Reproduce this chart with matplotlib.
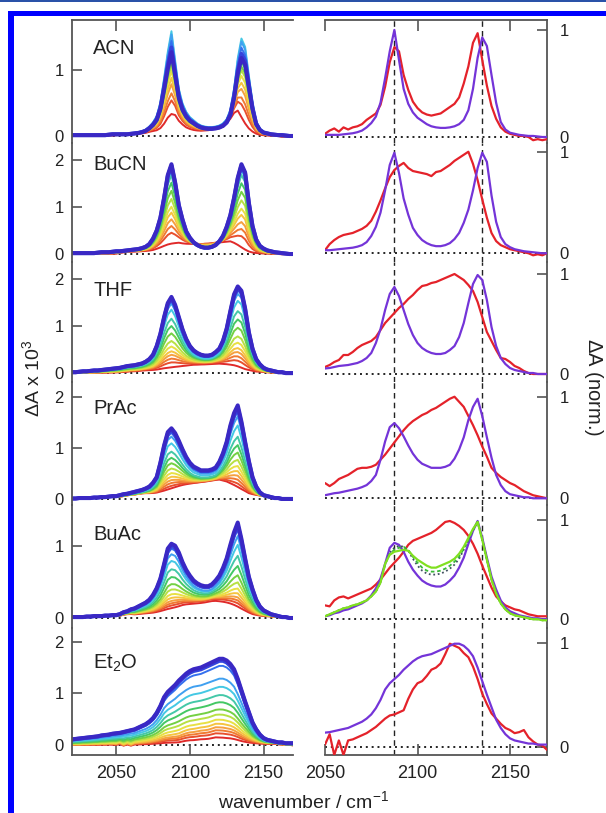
import numpy as np
import matplotlib
matplotlib.use("Agg")
import matplotlib.pyplot as plt
from matplotlib.patches import Rectangle

plt.rcParams['font.family'] = ['Liberation Sans', 'DejaVu Sans']
plt.rcParams['mathtext.fontset'] = 'custom'
plt.rcParams['mathtext.rm'] = 'Liberation Sans'
plt.rcParams['mathtext.it'] = 'Liberation Sans:italic'

# wavenumber grids (cm-1)
wn = np.arange(2020, 2172.5, 2.5)        # 61 points, left panels
wn_r = np.arange(2050, 2172.5, 2.5)      # 49 points, right-only traces

solvents = ['ACN', 'BuCN', 'THF', 'PrAc', 'BuAc', 'Et$_2$O']

# normalised spectra: "early" = red trace, "late" = violet trace (right column)
acn_late = [0.01, 0.01, 0.01, 0.01, 0.01, 0.01, 0.01, 0.01, 0.01, 0.01,
            0.015, 0.02, 0.02, 0.02, 0.02, 0.02, 0.025, 0.03, 0.035, 0.045,
            0.06, 0.09, 0.13, 0.19, 0.32, 0.55, 0.80, 1.0, 0.72, 0.45,
            0.31, 0.23, 0.18, 0.15, 0.12, 0.10, 0.09, 0.085, 0.085, 0.09,
            0.10, 0.12, 0.16, 0.25, 0.45, 0.74, 0.93, 0.85, 0.58, 0.32,
            0.14, 0.07, 0.04, 0.03, 0.02, 0.015, 0.01, 0.01, 0.005, 0.0,
            0.0]
acn_early = [0.02, 0.02, 0.02, 0.02, 0.02, 0.02, 0.02, 0.02, 0.02, 0.02,
             0.02, 0.02, 0.03, 0.06, 0.08, 0.05, 0.09, 0.07, 0.09, 0.10,
             0.12, 0.16, 0.19, 0.22, 0.30, 0.47, 0.70, 0.84, 0.80, 0.58,
             0.44, 0.33, 0.27, 0.23, 0.21, 0.20, 0.21, 0.22, 0.25, 0.28,
             0.31, 0.37, 0.50, 0.66, 0.88, 0.97, 0.72, 0.48, 0.29, 0.17,
             0.09, 0.05, 0.03, 0.02, 0.01, 0.01, 0.0, -0.03, -0.02, -0.03,
             -0.02]
bucn_late = [0.01, 0.01, 0.01, 0.01, 0.01, 0.01, 0.01, 0.015, 0.02, 0.02,
             0.02, 0.025, 0.03, 0.03, 0.035, 0.04, 0.045, 0.05, 0.055, 0.065,
             0.08, 0.11, 0.17, 0.26, 0.40, 0.62, 0.87, 0.99, 0.79, 0.54,
             0.38, 0.25, 0.18, 0.13, 0.10, 0.08, 0.07, 0.07, 0.08, 0.10,
             0.14, 0.20, 0.30, 0.43, 0.62, 0.84, 0.99, 0.90, 0.57, 0.31,
             0.16, 0.09, 0.06, 0.04, 0.03, 0.02, 0.015, 0.01, 0.005, 0.0,
             0.0]
bucn_early = [0.0, 0.0, 0.0, 0.0, 0.0, 0.0, 0.0, 0.01, 0.01, 0.01,
              0.01, 0.02, 0.03, 0.09, 0.13, 0.16, 0.18, 0.19, 0.20, 0.22,
              0.24, 0.27, 0.32, 0.41, 0.52, 0.64, 0.75, 0.82, 0.86, 0.89,
              0.84, 0.81, 0.80, 0.79, 0.78, 0.76, 0.80, 0.81, 0.84, 0.87,
              0.91, 0.94, 0.97, 1.0, 0.88, 0.72, 0.53, 0.35, 0.20, 0.12,
              0.08, 0.06, 0.04, 0.03, 0.02, 0.01, 0.0, -0.02, -0.01, -0.02,
              0.0]
thf_late = [0.01, 0.01, 0.015, 0.02, 0.02, 0.025, 0.03, 0.03, 0.035, 0.04,
            0.045, 0.05, 0.055, 0.06, 0.07, 0.08, 0.085, 0.09, 0.10, 0.11,
            0.13, 0.16, 0.21, 0.31, 0.45, 0.64, 0.80, 0.87, 0.78, 0.64,
            0.50, 0.39, 0.31, 0.26, 0.23, 0.21, 0.20, 0.20, 0.21, 0.24,
            0.28, 0.37, 0.51, 0.71, 0.90, 0.99, 0.94, 0.74, 0.47, 0.28,
            0.16, 0.10, 0.06, 0.04, 0.03, 0.02, 0.01, 0.01, 0.0, 0.0,
            0.0]
thf_early = [0.0, 0.0, 0.01, 0.01, 0.01, 0.02, 0.02, 0.03, 0.03, 0.04,
             0.05, 0.06, 0.07, 0.09, 0.12, 0.14, 0.19, 0.19, 0.22, 0.26,
             0.29, 0.31, 0.33, 0.37, 0.44, 0.51, 0.56, 0.61, 0.66, 0.70,
             0.75, 0.79, 0.84, 0.88, 0.89, 0.91, 0.92, 0.94, 0.96, 0.98,
             1.0, 0.97, 0.94, 0.89, 0.83, 0.72, 0.57, 0.42, 0.33, 0.24,
             0.16, 0.15, 0.12, 0.08, 0.06, 0.03, 0.01, 0.0, 0.0, 0.0,
             0.0]
prac_late = [0.005, 0.005, 0.01, 0.01, 0.01, 0.01, 0.015, 0.015, 0.02, 0.02,
             0.025, 0.03, 0.03, 0.04, 0.05, 0.055, 0.065, 0.075, 0.085, 0.095,
             0.11, 0.13, 0.17, 0.23, 0.38, 0.56, 0.70, 0.74, 0.69, 0.61,
             0.52, 0.44, 0.38, 0.34, 0.32, 0.30, 0.30, 0.30, 0.31, 0.33,
             0.39, 0.48, 0.60, 0.77, 0.90, 0.98, 0.81, 0.60, 0.40, 0.23,
             0.13, 0.07, 0.04, 0.03, 0.02, 0.01, 0.01, 0.0, 0.0, 0.0,
             0.0]
prac_early = [0.02, 0.03, 0.03, 0.04, 0.05, 0.06, 0.07, 0.08, 0.09, 0.10,
              0.12, 0.14, 0.15, 0.12, 0.15, 0.19, 0.21, 0.23, 0.26, 0.29,
              0.30, 0.30, 0.31, 0.33, 0.38, 0.43, 0.49, 0.55, 0.61, 0.67,
              0.72, 0.76, 0.79, 0.82, 0.84, 0.87, 0.89, 0.92, 0.95, 0.98,
              1.0, 0.95, 0.90, 0.81, 0.72, 0.62, 0.51, 0.41, 0.30, 0.25,
              0.21, 0.18, 0.15, 0.13, 0.10, 0.07, 0.05, 0.03, 0.02, 0.01,
              0.0]
buac_late = [0.01, 0.01, 0.01, 0.01, 0.015, 0.015, 0.02, 0.02, 0.02, 0.025,
             0.025, 0.03, 0.03, 0.04, 0.06, 0.07, 0.09, 0.10, 0.12, 0.14,
             0.16, 0.19, 0.24, 0.31, 0.41, 0.56, 0.72, 0.77, 0.75, 0.68,
             0.58, 0.50, 0.44, 0.39, 0.36, 0.34, 0.33, 0.33, 0.35, 0.39,
             0.44, 0.52, 0.62, 0.76, 0.89, 0.99, 0.82, 0.62, 0.43, 0.30,
             0.19, 0.12, 0.08, 0.06, 0.04, 0.03, 0.02, 0.01, 0.01, 0.0,
             0.0]
buac_early = [0.03, 0.03, 0.04, 0.04, 0.05, 0.06, 0.07, 0.08, 0.09, 0.10,
              0.11, 0.13, 0.14, 0.13, 0.19, 0.22, 0.23, 0.21, 0.23, 0.25,
              0.27, 0.29, 0.31, 0.35, 0.40, 0.46, 0.52, 0.57, 0.62, 0.68,
              0.75, 0.79, 0.81, 0.83, 0.85, 0.87, 0.90, 0.94, 0.98, 0.99,
              0.97, 0.94, 0.90, 0.84, 0.76, 0.66, 0.54, 0.43, 0.32, 0.23,
              0.18, 0.14, 0.12, 0.10, 0.09, 0.07, 0.05, 0.04, 0.03, 0.03,
              0.03]
et2o_late = [0.065, 0.07, 0.075, 0.08, 0.085, 0.09, 0.095, 0.10, 0.11, 0.115,
             0.12, 0.13, 0.135, 0.14, 0.15, 0.16, 0.17, 0.18, 0.20, 0.22,
             0.24, 0.27, 0.31, 0.37, 0.45, 0.55, 0.61, 0.65, 0.69, 0.74,
             0.78, 0.82, 0.85, 0.87, 0.88, 0.89, 0.91, 0.93, 0.95, 0.97,
             0.99, 0.99, 0.97, 0.93, 0.87, 0.76, 0.63, 0.50, 0.38, 0.26,
             0.18, 0.12, 0.08, 0.06, 0.05, 0.04, 0.03, 0.03, 0.02, 0.02,
             0.02]
et2o_early = [0.0, 0.01, 0.0, 0.02, 0.01, 0.02, 0.03, 0.02, 0.04, 0.03,
              0.05, 0.04, 0.02, 0.12, -0.08, 0.06, -0.08, 0.06, 0.07, 0.09,
              0.11, 0.13, 0.16, 0.19, 0.23, 0.27, 0.30, 0.31, 0.33, 0.35,
              0.46, 0.55, 0.61, 0.63, 0.68, 0.74, 0.76, 0.80, 0.89, 0.99,
              0.97, 0.95, 0.90, 0.86, 0.77, 0.65, 0.51, 0.41, 0.32, 0.27,
              0.22, 0.18, 0.16, 0.13, 0.14, 0.16, 0.09, 0.05, 0.02, 0.01,
              -0.03]

# BuAc extra normalised traces (right column, 2050-2170)
buac_green = [0.03, 0.05, 0.07, 0.09, 0.11, 0.12, 0.14, 0.15, 0.17, 0.19,
              0.23, 0.28, 0.37, 0.56, 0.65, 0.68, 0.69, 0.70, 0.69, 0.64,
              0.60, 0.57, 0.54, 0.52, 0.52, 0.54, 0.56, 0.58, 0.61, 0.66,
              0.73, 0.82, 0.91, 0.98, 0.80, 0.60, 0.40, 0.26, 0.16, 0.10,
              0.06, 0.04, 0.03, 0.02, 0.01, 0.0, 0.0, -0.01, -0.01]
buac_green_dot = [0.03, 0.05, 0.07, 0.09, 0.11, 0.12, 0.14, 0.15, 0.17, 0.19,
                  0.23, 0.28, 0.37, 0.55, 0.66, 0.70, 0.72, 0.73, 0.70, 0.63,
                  0.57, 0.52, 0.49, 0.48, 0.48, 0.49, 0.51, 0.54, 0.58, 0.63,
                  0.71, 0.80, 0.90, 0.98, 0.80, 0.60, 0.40, 0.26, 0.16, 0.10,
                  0.06, 0.04, 0.03, 0.02, 0.01, 0.0, 0.0, -0.01, -0.01]
buac_dark_dot = [0.03, 0.05, 0.07, 0.09, 0.11, 0.12, 0.14, 0.15, 0.17, 0.19,
                 0.23, 0.28, 0.37, 0.55, 0.67, 0.72, 0.74, 0.73, 0.69, 0.61,
                 0.54, 0.49, 0.46, 0.45, 0.45, 0.46, 0.48, 0.51, 0.55, 0.61,
                 0.70, 0.80, 0.90, 0.98, 0.80, 0.60, 0.40, 0.26, 0.16, 0.10,
                 0.06, 0.04, 0.03, 0.02, 0.01, 0.0, 0.0, -0.01, -0.01]

# amplitudes (x 10^-3) of early / late components for each time-delay trace
acn_a = [0.40, 0.35, 0.30, 0.25, 0.20, 0.15, 0.10, 0.05, 0.02, 0, 0, 0, 0, 0, 0]
acn_b = [0, 0.25, 0.40, 0.58, 0.72, 0.87, 1.0, 1.1, 1.2, 1.35, 1.6, 1.55, 1.45, 1.35, 1.28]
bucn_a = [0.27, 0.25, 0.22, 0.20, 0.17, 0.14, 0.10, 0.07, 0.04, 0, 0, 0, 0, 0, 0]
bucn_b = [0, 0.25, 0.42, 0.58, 0.75, 0.9, 1.1, 1.3, 1.5, 1.7, 1.8, 1.85, 1.88, 1.9, 1.93]
thf_a = [0.20, 0.20, 0.19, 0.18, 0.16, 0.14, 0.12, 0.10, 0.07, 0.04, 0, 0, 0, 0, 0]
thf_b = [0, 0.12, 0.22, 0.32, 0.42, 0.55, 0.7, 0.9, 1.1, 1.3, 1.55, 1.7, 1.78, 1.82, 1.86]
prac_a = [0.38, 0.36, 0.34, 0.31, 0.28, 0.25, 0.21, 0.17, 0.12, 0.07, 0.03, 0, 0, 0, 0]
prac_b = [0, 0.08, 0.17, 0.27, 0.38, 0.5, 0.65, 0.82, 1.0, 1.2, 1.45, 1.65, 1.75, 1.82, 1.87]
buac_a = [0.24, 0.25, 0.25, 0.24, 0.22, 0.20, 0.18, 0.15, 0.12, 0.08, 0.04, 0, 0, 0, 0]
buac_b = [0, 0.04, 0.08, 0.13, 0.2, 0.28, 0.38, 0.5, 0.65, 0.82, 1.0, 1.15, 1.25, 1.3, 1.34]
et2o_a = [0.15, 0.18, 0.20, 0.22, 0.22, 0.20, 0.18, 0.15, 0.12, 0.08, 0.04, 0, 0, 0, 0]
et2o_b = [0, 0.05, 0.09, 0.13, 0.2, 0.3, 0.42, 0.55, 0.72, 0.9, 1.1, 1.3, 1.55, 1.65, 1.69]

left_yticks = [[0, 1], [0, 1, 2], [0, 1, 2], [0, 1, 2], [0, 1], [0, 1, 2]]
right_yticks = [0, 1]
xticks = [2050, 2100, 2150]
peak_lines = [2087.5, 2135]

trace_colors = ['#e02a2a', '#e8502e', '#f07a32', '#f5a040', '#f5c440', '#e8e044',
                '#b8e044', '#74d044', '#44c864', '#44c8a8', '#44c8e4', '#40a0f0',
                '#3470ee', '#3444dc', '#3a28c4']
red = '#e4222a'
violet = '#7434d8'

rows = [(acn_early, acn_late, acn_a, acn_b),
        (bucn_early, bucn_late, bucn_a, bucn_b),
        (thf_early, thf_late, thf_a, thf_b),
        (prac_early, prac_late, prac_a, prac_b),
        (buac_early, buac_late, buac_a, buac_b),
        (et2o_early, et2o_late, et2o_a, et2o_b)]

W, H = 606, 813
fig = plt.figure(figsize=(W / 100, H / 100), dpi=100)

row_px = [20, 143, 262, 382, 505, 628, 755]
left_ylim = [(-0.107, 1.771), (-0.17, 2.362), (-0.19, 2.36),
             (-0.118, 2.29), (-0.139, 1.57), (-0.194, 2.27)]
right_ylim = [(-0.056, 1.093), (-0.086, 1.086), (-0.08, 1.12),
              (-0.066, 1.145), (-0.088, 1.151), (-0.08, 1.141)]
label_y = [48, 165, 290, 408, 535, 663]


def px_rect(x0, x1, y0, y1):
    return [x0 / W, 1 - y1 / H, (x1 - x0) / W, (y1 - y0) / H]


spine_col = '#555555'

for r in range(6):
    early, late, amp_a, amp_b = rows[r]
    early = np.array(early)
    late = np.array(late)
    axl = fig.add_axes(px_rect(72, 293, row_px[r], row_px[r + 1]))
    axr = fig.add_axes(px_rect(325, 547, row_px[r], row_px[r + 1]))

    # left: time-resolved family
    n = len(amp_a)
    for i in range(n):
        lw = 2.9 if i >= n - 2 else 1.4
        axl.plot(wn, amp_a[i] * early + amp_b[i] * late, color=trace_colors[i],
                 lw=lw, zorder=2 + i * 0.01)
    axl.axhline(0, color='#222222', lw=1.4, ls=(0, (1, 2)), zorder=1)
    axl.set_xlim(2020, 2170)
    axl.set_ylim(*left_ylim[r])
    axl.set_yticks(left_yticks[r])

    # right: normalised early / late
    axr.plot(wn, early, color=red, lw=1.6, zorder=3)
    axr.plot(wn, late, color=violet, lw=1.6, zorder=4)
    if r == 4:
        axr.plot(wn_r, buac_dark_dot, color='#405060', lw=1.3, ls=(0, (1, 1.5)), zorder=5)
        axr.plot(wn_r, buac_green_dot, color='#38b838', lw=1.3, ls=(0, (2, 1.5)), zorder=5)
        axr.plot(wn_r, buac_green, color='#80e020', lw=1.6, zorder=6)
    axr.axhline(0, color='#222222', lw=1.4, ls=(0, (1, 2)), zorder=1)
    for p in peak_lines:
        axr.axvline(p, color='#222222', lw=1.0, ls=(0, (4, 3)), zorder=1)
    axr.set_xlim(2050, 2170)
    axr.set_ylim(*right_ylim[r])
    axr.set_yticks(right_yticks)
    axr.yaxis.tick_right()

    for ax, side in ((axl, 'left'), (axr, 'right')):
        for s in ax.spines.values():
            s.set_visible(False)
            s.set_color(spine_col)
            s.set_linewidth(1.3)
        ax.spines[side].set_visible(True)
        ax.set_xticks(xticks)
        ax.tick_params(axis='both', direction='in', color=spine_col, width=1.2,
                       labelsize=12, labelcolor='#222222')
        ax.tick_params(axis='y', length=7, pad=6 if side == 'left' else 9)
        ax.tick_params(axis='x', length=8, labelsize=13, pad=7,
                       top=(r == 0), bottom=(r == 5), labelbottom=(r == 5))
        if side == 'right':
            ax.tick_params(axis='y', left=False, right=True, labelleft=False,
                           labelright=True)
        if r == 0:
            ax.spines['top'].set_visible(True)
        if r == 5:
            ax.spines['bottom'].set_visible(True)
        ax.patch.set_alpha(0)

    fig.text(93 / W, 1 - label_y[r] / H, solvents[r], fontsize=14.5,
             ha='left', va='center', color='#222222')

fig.text(32 / W, 1 - 378 / H, r'$\Delta$A x 10$^3$', rotation=90, fontsize=14,
         ha='center', va='center', color='#222222')
fig.text(594 / W, 1 - 387 / H, r'$\Delta$A (norm.)', rotation=-90, fontsize=14.5,
         ha='center', va='center', color='#222222')
fig.text(303 / W, 1 - 801 / H, 'wavenumber / cm$^{-1}$', fontsize=14,
         ha='center', va='center', color='#222222')

# blue frame of the source page
fig.add_artist(Rectangle((0, 1 - 2 / H), 1, 2 / H, transform=fig.transFigure,
                         color='#2a52a8', lw=0))
fig.add_artist(Rectangle((8 / W, 1 - 16 / H), 1, 5 / H, transform=fig.transFigure,
                         color='#0000ff', lw=0))
fig.add_artist(Rectangle((8 / W, 0), 6 / W, 1 - 11 / H, transform=fig.transFigure,
                         color='#0000ff', lw=0))

fig.savefig('out.png', dpi=100)
